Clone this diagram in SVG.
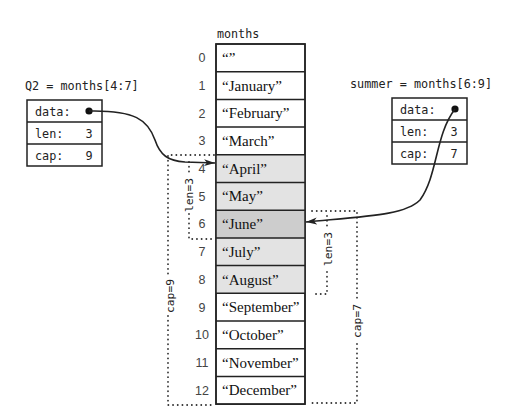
<svg xmlns="http://www.w3.org/2000/svg" width="515" height="415" viewBox="0 0 515 415">
<defs>
<style>
.mono{font-family:"DejaVu Sans Mono","Liberation Mono",monospace;fill:#222;}
.lbl{font-size:11.8px;}
.box{font-size:11.8px;}
.rot{font-size:11.3px;text-anchor:middle;}
.idx{font-family:"Liberation Sans",Arial,sans-serif;font-size:12.5px;fill:#444;text-anchor:middle;}
.cell{font-family:"Liberation Serif","Times New Roman",serif;font-size:15px;fill:#111;}
.frame{fill:#fff;stroke:#222;stroke-width:1.5;}
.dot{fill:none;stroke:#333;stroke-width:1.8;stroke-linecap:round;stroke-dasharray:0.1 4.6;}
.wire{fill:none;stroke:#222;stroke-width:1.6;}
</style>
<marker id="ah" markerWidth="12" markerHeight="8" refX="11" refY="4" orient="auto" markerUnits="userSpaceOnUse">
<path d="M0,0.5 L11,4 L0,7.5 L3,4 z" fill="#222"/>
</marker>
</defs>
<rect width="515" height="415" fill="#fff"/>

<g id="months">
<text class="mono" x="217" y="38" style="font-size:11.7px">months</text>
<rect class="frame" x="216" y="44" width="89" height="360.1"/>
<rect x="216" y="154.8" width="89" height="138.5" fill="#e3e3e3"/>
<rect x="216" y="210.2" width="89" height="27.7" fill="#cdcdcd"/>
<g stroke="#222" stroke-width="1.5" fill="none">
<rect x="216" y="44" width="89" height="360.1"/>
<path d="M216,71.7H305M216,99.4H305M216,127.1H305M216,154.8H305M216,182.5H305M216,210.2H305M216,237.9H305M216,265.6H305M216,293.3H305M216,321H305M216,348.7H305M216,376.4H305"/>
</g>
<g class="idx">
<text x="202" y="62.2">0</text>
<text x="202" y="89.9">1</text>
<text x="202" y="117.6">2</text>
<text x="202" y="145.3">3</text>
<text x="202" y="173">4</text>
<text x="202" y="200.7">5</text>
<text x="202" y="228.4">6</text>
<text x="202" y="256.1">7</text>
<text x="202" y="283.8">8</text>
<text x="202" y="311.5">9</text>
<text x="202" y="339.2">10</text>
<text x="202" y="366.9">11</text>
<text x="202" y="394.6">12</text>
</g>
<g class="cell">
<text x="222" y="62.9">“”</text>
<text x="222" y="90.6">“January”</text>
<text x="222" y="118.3">“February”</text>
<text x="222" y="146">“March”</text>
<text x="222" y="173.7">“April”</text>
<text x="222" y="201.4">“May”</text>
<text x="222" y="229.1">“June”</text>
<text x="222" y="256.8">“July”</text>
<text x="222" y="284.5">“August”</text>
<text x="222" y="312.2">“September”</text>
<text x="222" y="339.9">“October”</text>
<text x="222" y="367.6">“November”</text>
<text x="222" y="395.3">“December”</text>
</g>
</g>

<g id="q2">
<text class="mono lbl" x="25" y="90">Q2 = months[4:7]</text>
<rect class="frame" x="27" y="100" width="75" height="66"/>
<path d="M27,122H102M27,144H102" stroke="#222" stroke-width="1.5"/>
<text class="mono box" x="35" y="115.5">data:</text>
<text class="mono box" x="35" y="137.5">len:</text>
<text class="mono box" x="35" y="159.5">cap:</text>
<text class="mono box" x="89" y="137.5" text-anchor="middle">3</text>
<text class="mono box" x="89" y="159.5" text-anchor="middle">9</text>
<circle cx="89" cy="111" r="3.6" fill="#111"/>
</g>

<g id="summer">
<text class="mono lbl" x="350" y="88">summer = months[6:9]</text>
<rect class="frame" x="392" y="98" width="75" height="66"/>
<path d="M392,120H467M392,142H467" stroke="#222" stroke-width="1.5"/>
<text class="mono box" x="400" y="113.5">data:</text>
<text class="mono box" x="400" y="135.5">len:</text>
<text class="mono box" x="400" y="157.5">cap:</text>
<text class="mono box" x="454" y="135.5" text-anchor="middle">3</text>
<text class="mono box" x="454" y="157.5" text-anchor="middle">7</text>
<circle cx="455" cy="109" r="3.6" fill="#111"/>
</g>

<g id="brackets">
<path class="dot" d="M214,155H168V276"/>
<path class="dot" d="M168,316V405H214"/>
<path class="dot" d="M189,162V176"/>
<path class="dot" d="M189,214V239H214"/>
<path class="dot" d="M312,211H357V299"/>
<path class="dot" d="M357,344V403H312"/>
<path class="dot" d="M327,216V226"/>
<path class="dot" d="M327,272V294H312"/>
<text class="mono rot" transform="translate(170,296) rotate(-90)" y="4">cap=9</text>
<text class="mono rot" transform="translate(189,195) rotate(-90)" y="4">len=3</text>
<text class="mono rot" transform="translate(357,321) rotate(-90)" y="4">cap=7</text>
<text class="mono rot" transform="translate(328,249) rotate(-90)" y="4">len=3</text>
</g>

<g id="connectors">
<path class="wire" d="M89,111 C135,110 148,120 155,140 C160,155 168,161 185,162 L215,163" marker-end="url(#ah)"/>
<path class="wire" d="M455,109 C435,135 438,175 420,200 C405,215 370,216 306,222" marker-end="url(#ah)"/>
</g>
</svg>
